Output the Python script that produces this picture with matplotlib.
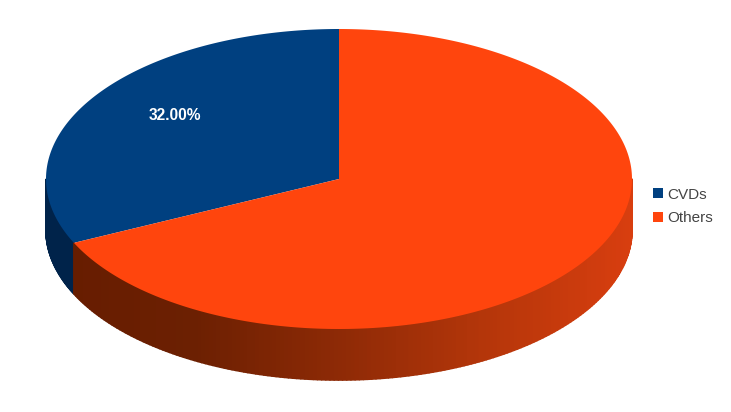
import numpy as np
import matplotlib
matplotlib.use('Agg')
import matplotlib.pyplot as plt
from matplotlib.collections import PolyCollection
from matplotlib.colors import LinearSegmentedColormap
from matplotlib.patches import Patch

categories = ['CVDs', 'Others']
values = [32.0, 68.0]
colors = ['#004080', '#ff450d']

plt.rcParams['font.family'] = ['Liberation Sans', 'DejaVu Sans']

# pie geometry in pixels
cx, cy = 339, 179
rx, ry = 293, 150
depth = 51

# side shading, left to right along x
side_cmaps = [
    LinearSegmentedColormap.from_list('blue', ['#00234a', '#00234a']),
    LinearSegmentedColormap.from_list('red', [(0, '#661c00'), (0.25, '#6c2002'), (0.5, '#8e2a06'),
                                              (0.75, '#b5360a'), (1, '#d83e0f')]),
]


def rim(a):
    return cx + rx * np.sin(a), cy - ry * np.cos(a)


fig = plt.figure(figsize=(7.31, 4.12), dpi=100)
ax = fig.add_axes([0, 0, 1, 1])
ax.set_xlim(0, 731)
ax.set_ylim(412, 0)
ax.axis('off')

# slices run counter-clockwise from 12 o'clock
start = 0.0
for val, col, cmap in zip(values, colors, side_cmaps):
    end = start - val / sum(values) * 2 * np.pi
    t = np.linspace(start, end, 300)
    x, y = rim(t)

    # visible side wall, thick edges so neighbouring strips overlap
    quads = []
    shades = []
    for i in range(len(t) - 1):
        if np.cos((t[i] + t[i + 1]) / 2) < 0:
            quads.append([(x[i], y[i]), (x[i + 1], y[i + 1]),
                          (x[i + 1], y[i + 1] + depth), (x[i], y[i] + depth)])
            shades.append(cmap((x[i] - (cx - rx)) / (2 * rx)))
    ax.add_collection(PolyCollection(quads, facecolors=shades, edgecolors=shades, linewidths=1.2, zorder=1))

    # top face
    ax.fill(np.r_[cx, x], np.r_[cy, y], color=col, lw=0, zorder=2)
    start = end

# percentage label inside the first slice
mid = -values[0] / sum(values) * np.pi
ax.text(cx + 0.665 * rx * np.sin(mid), cy - 0.795 * ry * np.cos(mid), '%.2f%%' % values[0],
        color='white', fontsize=11.2, fontweight='bold', ha='center', va='center', zorder=3)

handles = [Patch(facecolor=c, edgecolor='none', label=n) for n, c in zip(categories, colors)]
leg = ax.legend(handles=handles, loc='upper left', bbox_to_anchor=(653 / 731, 1 - 187.5 / 412),
                frameon=False, fontsize=11, handlelength=0.66, handleheight=0.66,
                handletextpad=0.24, labelspacing=0.63, borderpad=0, borderaxespad=0,
                labelcolor='#444444')

fig.savefig('out.png', dpi=100, facecolor='white')
